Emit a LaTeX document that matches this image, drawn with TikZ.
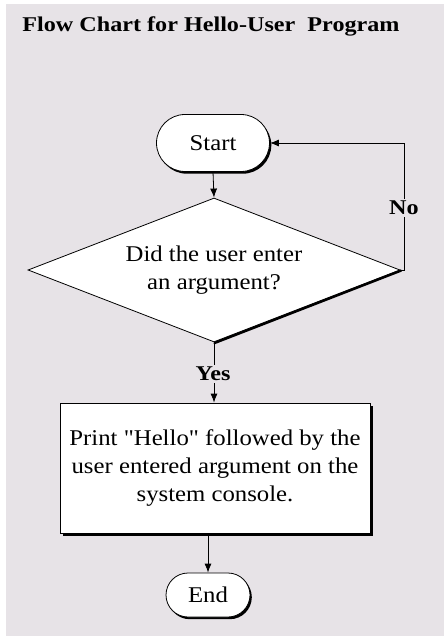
\documentclass[tikz,border=0pt]{standalone}
\usepackage{fontspec}
\setmainfont{Liberation Serif}
\newfontfamily\regst[FakeStretch=1.1]{Liberation Serif}
\newfontfamily\boldst[FakeStretch=1.15]{Liberation Serif}
\usetikzlibrary{shapes.geometric,shadows,arrows.meta}
\definecolor{bggray}{HTML}{E7E3E7}
\begin{document}
\begin{tikzpicture}[x=1pt,y=-1pt,
  line width=0.8pt,
  bodytext/.style={font=\regst\fontsize{22.5}{28}\selectfont, align=center},
  labeltext/.style={font=\boldst\bfseries\fontsize{21}{24}\selectfont, fill=bggray, inner sep=2pt},
  terminal/.style={draw, fill=white, bodytext, inner sep=0pt,
     drop shadow={shadow xshift=1.8pt, shadow yshift=-2.2pt, opacity=1, fill=black}},
  procbox/.style={draw, fill=white, bodytext, inner sep=0pt,
     drop shadow={shadow xshift=3pt, shadow yshift=-3pt, opacity=1, fill=black}},
  decision/.style={draw, fill=white, diamond, bodytext, inner sep=0pt, aspect=2.58},
  flow/.style={-{Latex[length=9pt,width=7pt]}}
]
\useasboundingbox (0,0) rectangle (444,636);
\fill[bggray] (6,4) rectangle (444,636);

\node[anchor=base west, font=\boldst\bfseries\fontsize{21}{24}\selectfont, inner sep=0pt] (title) at (22,32) {Flow Chart for Hello-User\ \ Program};

\node[terminal, minimum width=113pt, minimum height=57pt, rounded corners=28.5pt] (start) at (213,143) {Start};

\node[decision, minimum width=372pt, minimum height=144pt] (dia) at (214,270) {Did the user enter\\an argument?};
\draw[line width=2.4pt, line cap=round] ([xshift=0.6pt,yshift=-0.6pt]dia.east) -- ([xshift=0.6pt,yshift=-0.6pt]dia.south);

\node[procbox, minimum width=310pt, minimum height=130pt] (box) at (215,468) {Print "Hello" followed by the\\user entered argument on the\\system console.};

\node[terminal, minimum width=84pt, minimum height=44pt, rounded corners=22pt] (endn) at (208,595) {End};

\coordinate (nocorner) at (404,143);

\draw[flow] (start.south) -- (dia.north);
\draw[flow] (dia.east) -| (nocorner) -- (start.east);
\draw[flow] (dia.south) -- (dia.south |- box.north);
\draw[flow] (endn.north |- box.south) -- (endn.north);

\node[labeltext] (nolab) at (404,208) {No};
\node[labeltext] (yeslab) at (213,374) {Yes};
\end{tikzpicture}
\end{document}
